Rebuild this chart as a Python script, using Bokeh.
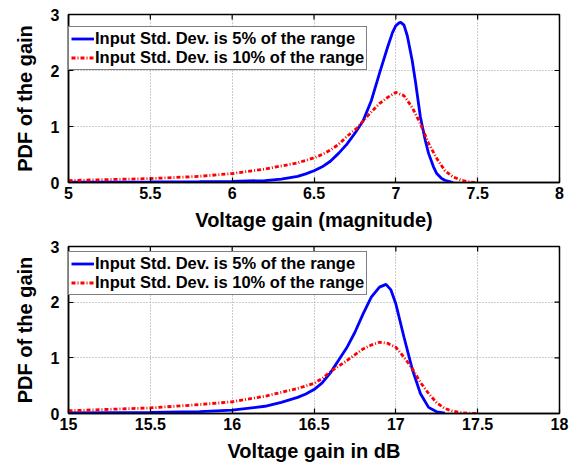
import math
from bokeh.plotting import figure
from bokeh.layouts import column
from bokeh.models import Range1d, FixedTicker, Legend, LegendItem
from bokeh.embed import file_html
from bokeh.resources import INLINE

# ---- data ----
mag_blue_x = [5.0, 5.5, 5.8, 6.0, 6.2, 6.3, 6.4, 6.45, 6.5, 6.55, 6.6, 6.65, 6.7, 6.75, 6.8, 6.85, 6.9, 6.95,
              6.98, 7.0, 7.02, 7.03, 7.05, 7.07, 7.1, 7.12, 7.15, 7.18, 7.2, 7.23, 7.25, 7.28,
              7.3, 7.35]
mag_blue_y = [0.005, 0.01, 0.015, 0.02, 0.035, 0.06, 0.11, 0.155, 0.21, 0.28, 0.38, 0.52, 0.68, 0.88, 1.1, 1.46, 1.95, 2.42,
              2.68, 2.8, 2.85, 2.86, 2.81, 2.62, 2.18, 1.8, 1.17, 0.75, 0.52, 0.28, 0.16, 0.07,
              0.04, 0.0]
mag_red_x = [5.0, 5.5, 5.8, 6.0, 6.2, 6.4, 6.5, 6.55, 6.6, 6.65, 6.7, 6.77, 6.8, 6.85, 6.9, 6.95, 7.0,
             7.05, 7.1, 7.15, 7.2, 7.25, 7.3, 7.35, 7.4, 7.45, 7.5]
mag_red_y = [0.035, 0.07, 0.11, 0.16, 0.24, 0.35, 0.44, 0.5, 0.58, 0.68, 0.82, 0.99, 1.1, 1.26, 1.41, 1.52, 1.61,
             1.55, 1.34, 1.05, 0.7, 0.43, 0.21, 0.1, 0.04, 0.01, 0.0]

db_blue_x = [15.0, 15.5, 15.8, 16.0, 16.2, 16.3, 16.4, 16.45, 16.5, 16.55, 16.6, 16.66, 16.7, 16.75, 16.8,
             16.85, 16.9, 16.94, 16.97, 17.0, 17.05, 17.1, 17.15, 17.2, 17.25, 17.3]
db_blue_y = [0.01, 0.02, 0.035, 0.06, 0.13, 0.2, 0.29, 0.35, 0.43, 0.55, 0.73, 1.0, 1.18, 1.46, 1.79,
             2.09, 2.27, 2.32, 2.22, 1.97, 1.37, 0.8, 0.36, 0.11, 0.03, 0.005]
db_red_x = [15.0, 15.5, 15.8, 16.0, 16.2, 16.4, 16.5, 16.55, 16.6, 16.7, 16.8, 16.85, 16.9, 16.95, 17.0,
            17.05, 17.1, 17.15, 17.2, 17.25, 17.3, 17.35, 17.4, 17.45, 17.5]
db_red_y = [0.05, 0.1, 0.16, 0.21, 0.31, 0.45, 0.54, 0.63, 0.75, 0.95, 1.16, 1.23, 1.28, 1.26, 1.19,
            1.01, 0.81, 0.56, 0.36, 0.19, 0.09, 0.04, 0.015, 0.005, 0.0]

labels = ["Input Std. Dev. is 5% of the range", "Input Std. Dev. is 10% of the range"]
y_range = [0, 3]
mag_range = [5, 8]
db_range = [15, 18]
y_ticks = [0, 1, 2, 3]
mag_ticks = [5, 5.5, 6, 6.5, 7, 7.5, 8]
db_ticks = [15, 15.5, 16, 16.5, 17, 17.5, 18]

FONT = "Liberation Sans"


def make(xr, xticks, xlabel, bx, by, rx, ry, fh, top, bottom, legend_y):
    p = figure(frame_width=491, frame_height=fh, output_backend="svg", toolbar_location=None,
               x_range=Range1d(*xr), y_range=Range1d(*y_range),
               min_border_left=68, min_border_right=14, min_border_top=top, min_border_bottom=bottom)
    p.outline_line_color = "black"
    p.outline_line_width = 1.5
    p.background_fill_color = "white"
    for ax, t in ((p.xaxis[0], xticks), (p.yaxis[0], y_ticks)):
        ax.ticker = FixedTicker(ticks=t)
        ax.major_tick_in = 5
        ax.major_tick_out = 0
        ax.major_tick_line_width = 1.2
        ax.minor_tick_line_color = None
        ax.axis_line_color = "black"
        ax.axis_line_width = 1.5
        ax.major_label_text_font = FONT
        ax.major_label_text_font_style = "bold"
        ax.major_label_text_font_size = "16px"
        ax.major_label_text_color = "black"
        ax.axis_label_text_font = FONT
        ax.axis_label_text_font_style = "bold"
        ax.axis_label_text_font_size = "20px"
        ax.axis_label_text_color = "black"
    p.xaxis[0].axis_label = xlabel
    p.yaxis[0].axis_label = "PDF of the gain"
    p.xaxis[0].major_label_standoff = 4
    p.yaxis[0].major_label_standoff = 9
    p.xaxis[0].axis_label_standoff = 7
    p.yaxis[0].axis_label_standoff = 12

    for g in (p.xgrid[0], p.ygrid[0]):
        g.grid_line_color = "#9a9a9a"
        g.grid_line_dash = "1 2"
        g.grid_line_width = 1
    p.xgrid[0].ticker = FixedTicker(ticks=xticks)
    p.ygrid[0].ticker = FixedTicker(ticks=y_ticks)

    # mirrored inward ticks on the right and top edges (dash markers clipped by the frame)
    p.scatter([xr[1]] * len(y_ticks), y_ticks, marker="dash", size=10,
              line_color="black", line_width=1.2)
    p.scatter(xticks, [y_range[1]] * len(xticks), marker="dash", size=10, angle=math.pi / 2,
              line_color="black", line_width=1.2)

    r1 = p.line(bx, by, line_color="#0000ff", line_width=2.8)
    r2 = p.line(rx, ry, line_color="#ff0000", line_width=2.8, line_dash="4 2 1 2")

    leg = Legend(items=[LegendItem(label=labels[0], renderers=[r1]),
                        LegendItem(label=labels[1], renderers=[r2])],
                 location=(0, legend_y), border_line_color="black", border_line_width=1.5,
                 background_fill_alpha=1, label_text_font=FONT, label_text_font_style="bold",
                 label_text_font_size="16.5px", label_text_color="black", glyph_width=23,
                 glyph_height=19, label_standoff=1, padding=2, spacing=0, margin=0,
                 label_height=19)
    p.add_layout(leg, "center")
    return p


p1 = make(mag_range, mag_ticks, "Voltage gain (magnitude)", mag_blue_x, mag_blue_y, mag_red_x, mag_red_y,
          168, 14, 56, 112)
p2 = make(db_range, db_ticks, "Voltage gain in dB", db_blue_x, db_blue_y, db_red_x, db_red_y,
          167, 8, 51, 118)

p = column(p1, p2, spacing=0)
open("out.html", "w").write(file_html(p, INLINE))
